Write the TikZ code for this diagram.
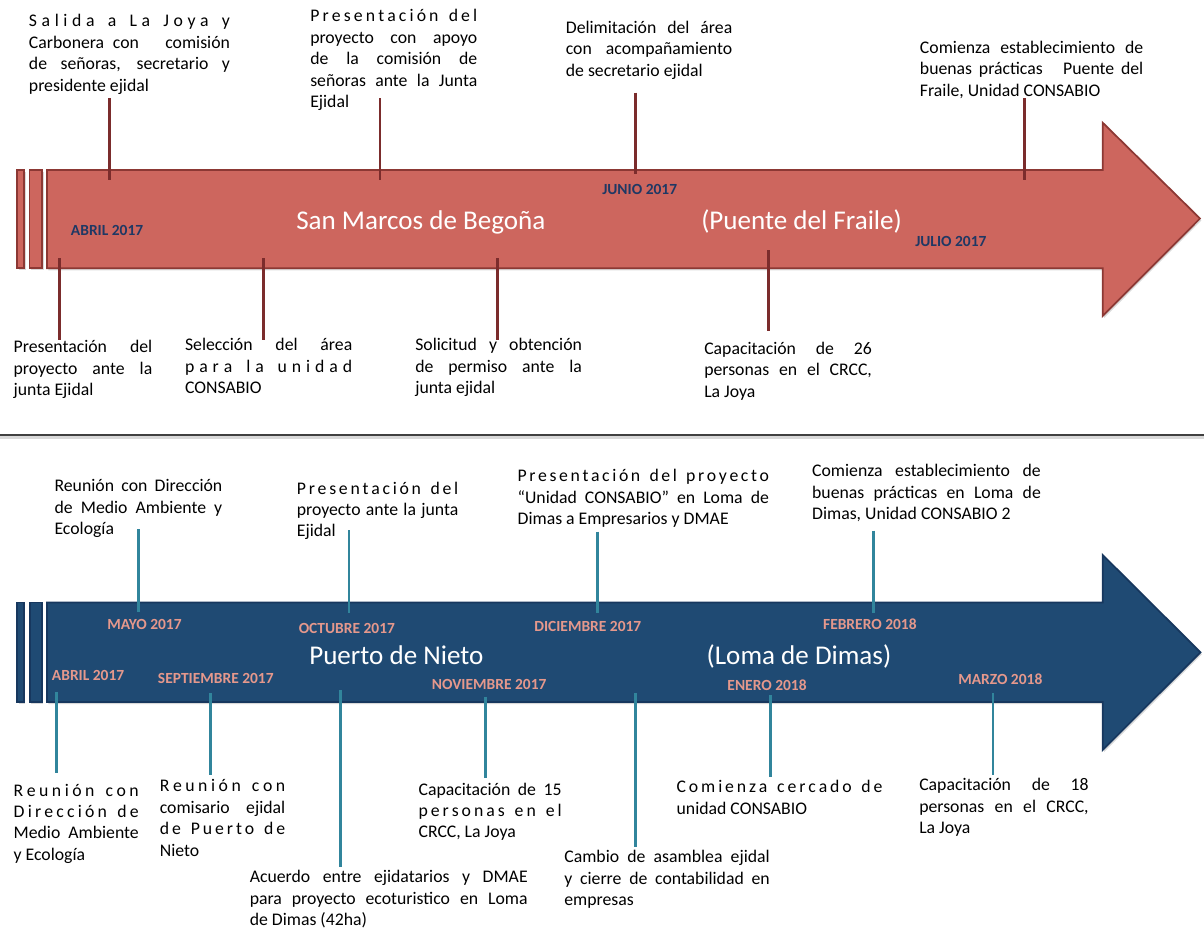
\documentclass[tikz,border=0pt]{standalone}
\usepackage{fontspec}
\setmainfont{Carlito}
\usetikzlibrary{shadows}
\definecolor{redfill}{HTML}{CD665E}
\definecolor{redline}{HTML}{8C3834}
\definecolor{tickred}{HTML}{7B2C2C}
\definecolor{bluefill}{HTML}{1F4A73}
\definecolor{blueline}{HTML}{17375E}
\definecolor{tickteal}{HTML}{31859C}
\definecolor{salmon}{HTML}{E5988C}
\definecolor{navy}{HTML}{1F3864}
\definecolor{sepgray}{HTML}{404040}
\ExplSyntaxOn
\seq_new:N \l_my_words_seq
\seq_new:N \l_my_chars_seq
\bool_new:N \l_my_first_bool
\NewDocumentCommand \spreadit { m }
 {
  \seq_set_split:Nnn \l_my_words_seq { ~ } { #1 }
  \bool_set_true:N \l_my_first_bool
  \seq_map_inline:Nn \l_my_words_seq
   {
    \bool_if:NF \l_my_first_bool { \hfil \c_space_tl \hfil }
    \bool_set_false:N \l_my_first_bool
    \seq_set_split:Nnn \l_my_chars_seq { } { ##1 }
    \seq_use:Nn \l_my_chars_seq { \hfil }
   }
 }
\ExplSyntaxOff
\newdimen\bw
\newcommand\blk[2]{\vtop{\bw=\dimexpr #1pt*3/4\relax\baselineskip=16.1pt\lineskiplimit=-20pt #2}}
\newcommand\J[1]{\hbox to\bw{#1}}
\newcommand\Sp[1]{\hbox to\bw{\spreadit{#1}}}
\newcommand\Lf[1]{\hbox to\bw{#1\hfil}}
\newcommand\mytick[5]{\coordinate (#1a) at (#2,#3); \coordinate (#1b) at (#2,#4); \draw[#5] (#1a) -- (#1b);}
\tikzset{
 txt/.style={inner sep=0pt, anchor=base west, font=\fontsize{13.3}{16.1}\selectfont, text=black},
 dateR/.style={inner sep=0pt, anchor=base west, font=\bfseries\fontsize{11.6}{14}\selectfont, text=navy},
 dateB/.style={inner sep=0pt, anchor=base west, font=\bfseries\fontsize{11.6}{14}\selectfont, text=salmon},
 ttl/.style={inner sep=0pt, anchor=base west, font=\fontsize{20.3}{24}\selectfont, text=white},
 tickR/.style={draw=tickred, line width=2pt},
 tickB/.style={draw=tickteal, line width=2pt},
 arrR/.style={fill=redfill, draw=redline, line width=1.3pt, line join=miter, drop shadow={shadow xshift=1pt, shadow yshift=-1.5pt, opacity=0.3}},
 arrB/.style={fill=bluefill, draw=blueline, line width=1.3pt, line join=miter, drop shadow={shadow xshift=1pt, shadow yshift=-1.5pt, opacity=0.3}},
 sepline/.style={draw=sepgray, line width=2.2pt},
}
\begin{document}
\begin{tikzpicture}[x=0.75pt, y=-0.75pt]
\useasboundingbox (0,0) rectangle (1204,928);
% ---------- top (red) arrow ----------
\draw[arrR] (17.3,170) rectangle (24.3,268.3);
\draw[arrR] (29.5,170) rectangle (42.2,268.3);
\draw[arrR] (47,170) -- (1102.7,170) -- (1102.7,122.7) -- (1200,218.5) -- (1102.7,316) -- (1102.7,268.3) -- (47,268.3) -- cycle;
\mytick{ra}{109.8}{98}{180}{tickR}
\mytick{rb}{380}{98}{180}{tickR}
\mytick{rc}{635.8}{92.7}{173.5}{tickR}
\mytick{rd}{1024.5}{98}{180}{tickR}
\mytick{re}{59.3}{258}{340}{tickR}
\mytick{rf}{263.3}{258}{340}{tickR}
\mytick{rg}{497.5}{258}{340}{tickR}
\mytick{rh}{768.7}{250}{331}{tickR}
\node[ttl] (t1) at (296,229.5) {San Marcos de Begoña};
\node[ttl] (t2) at (701,229.5) {(Puente del Fraile)};
\node[dateR] (d1) at (70.7,235) {ABRIL 2017};
\node[dateR] (d2) at (602,194.3) {JUNIO 2017};
\node[dateR] (d3) at (915,246.7) {JULIO 2017};
\node[txt] (a) at (28.7,26.7) {\blk{201}{\Sp{Salida a La Joya y}\J{Carbonera con\ \ \ comisión}\J{de señoras, secretario y}\Lf{presidente ejidal}}};
\node[txt] (b) at (310,21.7) {\blk{167}{\Sp{Presentación del}\J{proyecto con apoyo}\J{de la comisión de}\J{señoras ante la Junta}\Lf{Ejidal}}};
\node[txt] (c) at (565.6,33.3) {\blk{166.4}{\J{Delimitación del área}\J{con acompañamiento}\Lf{de secretario ejidal}}};
\node[txt] (d) at (919.7,53.3) {\blk{223.3}{\J{Comienza establecimiento de}\J{buenas prácticas\ \ \ Puente del}\Lf{Fraile, Unidad CONSABIO}}};
\node[txt] (e) at (13.4,352.7) {\blk{138.6}{\J{Presentación del}\J{proyecto ante la}\Lf{junta Ejidal}}};
\node[txt] (f) at (184.8,350.7) {\blk{167.2}{\J{Selección del área}\Sp{para la unidad}\Lf{CONSABIO}}};
\node[txt] (g) at (415,350.7) {\blk{166.7}{\J{Solicitud y obtención}\J{de permiso ante la}\Lf{junta ejidal}}};
\node[txt] (h) at (704,354.3) {\blk{167.6}{\J{Capacitación de 26}\J{personas en el CRCC,}\Lf{La Joya}}};
% ---------- separator ----------
\coordinate (s1) at (0,435);
\coordinate (s2) at (1204,435);
\draw[draw=black!15, line width=2pt] ([yshift=-2pt]s1) -- ([yshift=-2pt]s2);
\draw[sepline] (s1) -- (s2);
% ---------- bottom (blue) arrow ----------
\draw[arrB] (17.2,602.5) rectangle (24,702);
\draw[arrB] (30,602.5) rectangle (42,702);
\draw[arrB] (47,602.5) -- (1102.7,602.5) -- (1102.7,555) -- (1200.5,652.3) -- (1102.7,750) -- (1102.7,702) -- (47,702) -- cycle;
\mytick{ba}{138.5}{529.3}{611.7}{tickB}
\mytick{bb}{349}{530}{612.7}{tickB}
\mytick{bc}{597.5}{531.7}{613.3}{tickB}
\mytick{bd}{873.7}{530.7}{612.7}{tickB}
\mytick{be}{56.6}{691.7}{773.3}{tickB}
\mytick{bf}{210.5}{693.3}{775}{tickB}
\mytick{bg}{340.6}{690}{866.7}{tickB}
\mytick{bh}{485.3}{696.7}{778.3}{tickB}
\mytick{bi}{635.7}{693.3}{846.7}{tickB}
\mytick{bj}{770.4}{695}{776.7}{tickB}
\mytick{bk}{993.1}{693.3}{775}{tickB}
\node[ttl] (t3) at (309,664) {Puerto de Nieto};
\node[ttl] (t4) at (706.4,664) {(Loma de Dimas)};
\node[dateB] (e1) at (107,629.3) {MAYO 2017};
\node[dateB] (e2) at (298.5,633.3) {OCTUBRE 2017};
\node[dateB] (e3) at (534,631.3) {DICIEMBRE 2017};
\node[dateB] (e4) at (822.9,629) {FEBRERO 2018};
\node[dateB] (e5) at (51.7,680.3) {ABRIL 2017};
\node[dateB] (e6) at (157.7,683.3) {SEPTIEMBRE 2017};
\node[dateB] (e7) at (431.7,689.3) {NOVIEMBRE 2017};
\node[dateB] (e8) at (727.2,690) {ENERO 2018};
\node[dateB] (e9) at (958,684.3) {MARZO 2018};
\node[txt] (i) at (54.3,491.7) {\blk{167.7}{\J{Reunión con Dirección}\J{de Medio Ambiente y}\Lf{Ecología}}};
\node[txt] (j) at (296.6,494) {\blk{161.4}{\Sp{Presentación del}\J{proyecto ante la junta}\Lf{Ejidal}}};
\node[txt] (k) at (517.4,481.7) {\blk{251.3}{\Sp{Presentación del proyecto}\J{“Unidad CONSABIO” en Loma de}\Lf{Dimas a Empresarios y DMAE}}};
\node[txt] (l) at (811.9,476.7) {\blk{228.7}{\J{Comienza establecimiento de}\J{buenas prácticas en Loma de}\Lf{Dimas, Unidad CONSABIO 2}}};
\node[txt] (m) at (13.4,796) {\blk{125.1}{\Sp{Reunión con}\Sp{Dirección de}\J{Medio Ambiente}\Lf{y Ecología}}};
\node[txt] (n) at (159.6,791.7) {\blk{125.4}{\Sp{Reunión con}\J{comisario ejidal}\Sp{de Puerto de}\Lf{Nieto}}};
\node[txt] (o) at (249.5,882.7) {\blk{277.9}{\J{Acuerdo entre ejidatarios y DMAE}\J{para proyecto ecoturistico en Loma}\Lf{de Dimas (42ha)}}};
\node[txt] (p) at (418.3,795) {\blk{143.1}{\J{Capacitación de 15}\Sp{personas en el}\Lf{CRCC, La Joya}}};
\node[txt] (q) at (564.1,862.7) {\blk{205.4}{\J{Cambio de asamblea ejidal}\J{y cierre de contabilidad en}\Lf{empresas}}};
\node[txt] (r) at (676.4,792.7) {\blk{205.8}{\Sp{Comienza cercado de}\Lf{unidad CONSABIO}}};
\node[txt] (s) at (919,790.7) {\blk{169.4}{\J{Capacitación de 18}\J{personas en el CRCC,}\Lf{La Joya}}};
\end{tikzpicture}
\end{document}
